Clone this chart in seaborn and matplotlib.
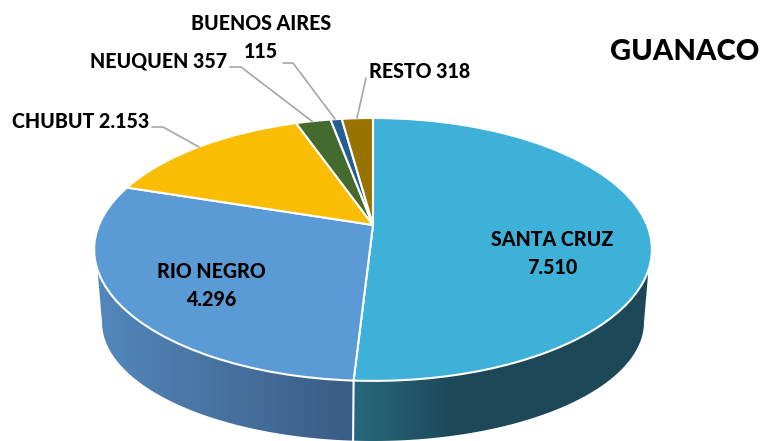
import matplotlib
matplotlib.use('Agg')
import matplotlib.pyplot as plt
from matplotlib.patches import Polygon
from matplotlib.transforms import Transform
import numpy as np
import seaborn as sns

# pie data, clockwise from the top
provinces = ['SANTA CRUZ', 'RIO NEGRO', 'CHUBUT', 'NEUQUEN', 'BUENOS AIRES', 'RESTO']
heads = [7510, 4296, 2153, 357, 115, 318]
face_colors = ['#3EB1D9', '#5B9BD5', '#FBBC04', '#446A2E', '#255E91', '#997300']

sns.set_theme(style='white')
plt.rcParams['font.family'] = ['Lato', 'DejaVu Sans']

W, H = 763, 441

# tilted disc seen in perspective: far half is squeezed
CX, CY, RX, RY, K = 373, 225, 274, 126.9, 0.186
# bottom rim of the wall
BX, BY, BRX, BRY = 373, 322, 271, 119


def project(u, v):
    w = 1 + K * v
    return CX + RX * u / w, CY - RY * v / w


class Perspective(Transform):
    input_dims = 2
    output_dims = 2
    is_separable = False
    has_inverse = False

    def transform_non_affine(self, values):
        values = np.asarray(values, dtype=float)
        x, y = project(values[:, 0], values[:, 1])
        return np.column_stack([x, y])


def rim(deg):
    t = np.radians(deg)
    return project(np.sin(t), np.cos(t))


fig = plt.figure(figsize=(W / 100, H / 100), dpi=100)
ax = fig.add_axes([0, 0, 1, 1])

wedges, _ = ax.pie(heads, colors=face_colors, startangle=90, counterclock=False,
                   wedgeprops=dict(edgecolor='white', linewidth=1.5))
for wedge in wedges:
    wedge.set_transform(Perspective() + ax.transData)
    wedge.set_zorder(3)

# where santa cruz ends on the rim
seam = 360 * heads[0] / sum(heads)
seam_x, seam_y = rim(seam)
side = 109.4  # angle where the wall starts showing


def wall(a, b, colors, x0, x1):
    th = np.linspace(a, b, 80)
    tx, ty = rim(th)
    ph0 = np.arcsin(np.clip((tx[-1] - BX) / BRX, -1, 1))
    if tx[0] < BX:
        ph = np.linspace(ph0, -np.pi / 2, 80)
    else:
        ph = np.linspace(ph0, np.pi / 2, 80)
    bx = BX + BRX * np.sin(ph)
    by = BY + BRY * np.cos(ph)
    pts = np.column_stack([np.r_[tx, bx], np.r_[ty, by]])
    clip = Polygon(pts, closed=True, transform=ax.transData, fc='none', ec='none')
    ax.add_patch(clip)
    rgb = np.array(colors)[None, :, :]
    im = ax.imshow(rgb, extent=[x0, x1, H + 5, 100], aspect='auto', zorder=1,
                   interpolation='bilinear')
    im.set_clip_path(clip)


right_cols = sns.blend_palette(['#27687C', '#1C4858', '#1C4858', '#1C4858'], 64)
left_cols = sns.blend_palette(['#5388BC', '#3A5C84'], 64)
wall(side, seam, right_cols, seam_x, 655)
wall(360 - side, seam, left_cols, 92, seam_x)

# white seam on the wall
ax.plot([seam_x, seam_x - 0.5], [seam_y, H], color='white', lw=1.5, zorder=2)

# leader lines
leader_color = '#A6A6A6'
ax.plot([152, 163, 199], [127, 127, 147], color=leader_color, lw=1.2, zorder=4)
ax.plot([230, 241, 313], [67, 67, 122], color=leader_color, lw=1.2, zorder=4)
ax.plot([283, 293, 335], [63, 63, 119], color=leader_color, lw=1.2, zorder=4)
ax.plot([366, 357], [78, 118], color=leader_color, lw=1.2, zorder=4)

lab = dict(color='black', fontweight='black', fontsize=14.1, va='center', zorder=5)
ax.text(552, 240, provinces[0], ha='center', **lab)
ax.text(552, 268, '7.510', ha='center', **lab)
ax.text(211, 272, provinces[1], ha='center', **lab)
ax.text(211, 300, '4.296', ha='center', **lab)
ax.text(12, 121, 'CHUBUT 2.153', ha='left', **lab)
ax.text(90, 61, 'NEUQUEN 357', ha='left', **lab)
ax.text(261, 24, provinces[4], ha='center', **lab)
ax.text(261, 52, '115', ha='center', **lab)
ax.text(369, 71, 'RESTO 318', ha='left', **lab)
ax.text(684.5, 52, 'GUANACO', ha='center', va='center', color='black',
        fontweight='black', fontsize=21, zorder=5)

ax.set_aspect('auto')
ax.set_xlim(0, W)
ax.set_ylim(H, 0)
ax.axis('off')

plt.savefig('out.png', dpi=100)
